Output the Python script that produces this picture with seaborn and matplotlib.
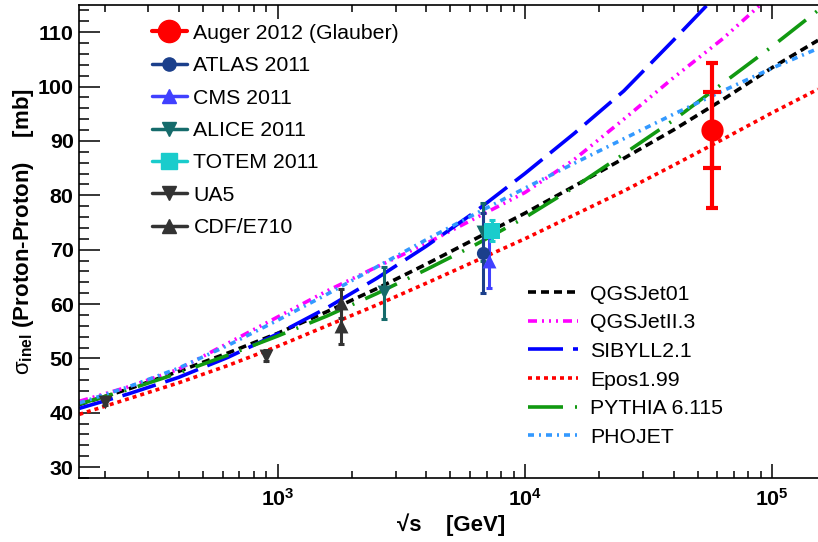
import numpy as np
import pandas as pd
import matplotlib
matplotlib.use("Agg")
import matplotlib.pyplot as plt
import seaborn as sns
from matplotlib.lines import Line2D
from matplotlib.ticker import MultipleLocator, LogLocator, FuncFormatter, NullFormatter

# model curves: sqrt(s) in GeV, sigma_inel in mb
sqrt_s_model = [158, 251, 398, 631, 1000, 1585, 2512, 3981, 6310, 10000,
                15849, 25119, 39811, 63096, 100000, 153000]
qgsjet01 = [41.5, 44.4, 47.6, 51.0, 54.6, 58.6, 62.8, 67.3, 72.0, 76.7,
            81.7, 86.8, 92.0, 97.6, 103.5, 108.5]
qgsjetii = [42.1, 44.8, 48.0, 52.8, 57.6, 62.4, 66.8, 71.1, 75.8, 80.5,
            86.6, 94.0, 101.6, 108.8, 117.0, np.nan]
sibyll = [40.8, 43.5, 46.5, 50.2, 54.5, 59.3, 64.7, 70.6, 77.0, 84.0,
          91.4, 99.2, 108.5, 118.0, np.nan, np.nan]
epos = [39.7, 42.6, 45.5, 48.7, 52.2, 56.0, 59.8, 63.8, 67.9, 72.0,
        76.4, 80.8, 85.5, 90.3, 95.2, 99.5]
pythia = [41.6, 44.3, 47.3, 50.6, 54.1, 57.8, 61.9, 66.3, 70.9, 75.9,
          81.5, 87.6, 93.8, 100.6, 107.4, 114.0]
phojet = [41.8, 44.8, 48.2, 52.4, 57.0, 61.8, 66.8, 71.8, 76.6, 81.3,
          85.9, 90.4, 94.9, 99.2, 103.4, 107.0]
model_names = ["QGSJet01", "QGSJetII.3", "SIBYLL2.1", "Epos1.99", "PYTHIA 6.115", "PHOJET"]

# measurements
auger_x = [57000]
auger_y = [92.0]
auger_stat = [7.0]
auger_tot_lo = [14.3]
auger_tot_hi = [12.4]

atlas_x = [6750]
atlas_y = [69.4]
atlas_err = [7.3]

cms_x = [7170]
cms_y = [68.0]
cms_err = [5.0]

alice_x = [2700, 6790]
alice_y = [62.3, 73.2]
alice_lo = [5.0, 5.3]
alice_hi = [4.5, 5.3]

totem_x = [7340]
totem_y = [73.5]
totem_err = [1.9]

ua5_x = [200, 900]
ua5_y = [42.0, 50.5]
ua5_err = [0.6, 1.0]

cdf_x = [1800, 1800]
cdf_y = [60.1, 56.0]
cdf_err = [2.6, 3.4]

sns.set_style("ticks")
plt.rcParams["font.family"] = ["Liberation Sans", "DejaVu Sans"]
plt.rcParams["mathtext.fontset"] = "custom"
plt.rcParams["mathtext.rm"] = "Liberation Sans"
plt.rcParams["mathtext.bf"] = "Liberation Sans:bold"
plt.rcParams["mathtext.it"] = "Liberation Sans:italic"
plt.rcParams["mathtext.sf"] = "Liberation Sans"
for key in ["text.color", "axes.labelcolor", "xtick.color", "ytick.color", "axes.edgecolor"]:
    plt.rcParams[key] = "black"

fig = plt.figure(figsize=(8.18, 5.42), dpi=100)
ax = fig.add_axes([0.0969, 0.1181, 0.9031, 0.8727])
ax.set_xscale("log")

LW = 2.6
def px_dash(*px):
    # dash pattern given in pixels, converted to linewidth units
    return (0, tuple(p / (LW * 100 / 72) for p in px))

model_vals = [qgsjet01, qgsjetii, sibyll, epos, pythia, phojet]
model_colors = ["black", "#ff00ff", "#0000ff", "#ff0000", "#119911", "#3399ff"]
model_dash = [px_dash(8, 5), px_dash(9, 5, 2, 5, 2, 5, 2, 5), px_dash(35, 10),
              px_dash(4, 4), px_dash(35, 12, 2, 12), px_dash(6, 5, 2, 5)]

model_lines = []
for vals, col, ls in zip(model_vals, model_colors, model_dash):
    sns.lineplot(x=sqrt_s_model, y=vals, ax=ax, color=col, lw=LW,
                 linestyle=ls, sort=False, zorder=2)
    model_lines.append(ax.lines[-1])

def draw_points(x, y, lo, hi, color, marker, size, lw=2.2, cap=2.0):
    ax.errorbar(x, y, yerr=[lo, hi], fmt="none", ecolor=color,
                elinewidth=lw, capsize=cap, capthick=lw, zorder=3)
    sns.scatterplot(x=x, y=y, ax=ax, marker=marker, s=size ** 2, color=color,
                    edgecolor=color, linewidth=0, zorder=4)

draw_points(ua5_x, ua5_y, ua5_err, ua5_err, "#333333", "v", 10)
draw_points(cdf_x, cdf_y, cdf_err, cdf_err, "#333333", "^", 10)
draw_points(alice_x, alice_y, alice_lo, alice_hi, "#156b6b", "v", 10)
draw_points(atlas_x, atlas_y, atlas_err, atlas_err, "#1b3f8b", "o", 9.5)
draw_points(cms_x, cms_y, cms_err, cms_err, "#4040ff", "^", 10)
draw_points(totem_x, totem_y, totem_err, totem_err, "#1acccc", "s", 11)
ax.errorbar(auger_x, auger_y, yerr=[auger_tot_lo, auger_tot_hi], fmt="none",
            ecolor="red", elinewidth=3, capsize=4.3, capthick=3, zorder=5)
draw_points(auger_x, auger_y, auger_stat, auger_stat, "red", "o", 16, lw=3, cap=6.5)

ax.set_xlim(158, 153000)
ax.set_ylim(28, 115)

ax.yaxis.set_major_locator(MultipleLocator(10))
ax.yaxis.set_minor_locator(MultipleLocator(2))
ax.xaxis.set_major_locator(LogLocator(base=10, numticks=10))
ax.xaxis.set_minor_locator(LogLocator(base=10, subs=np.arange(2, 10), numticks=20))
ax.xaxis.set_major_formatter(FuncFormatter(lambda v, p: r"$\mathbf{10^{%d}}$" % round(np.log10(v))))
ax.xaxis.set_minor_formatter(NullFormatter())
ax.tick_params(axis="both", which="both", direction="in", color="black", width=1.1,
               labelcolor="black")
ax.tick_params(axis="x", which="major", length=10, top=True, pad=7)
ax.tick_params(axis="x", which="minor", length=5, top=True)
ax.tick_params(axis="y", which="major", length=15, pad=4)
ax.tick_params(axis="y", which="minor", length=7.5)
for lab in ax.get_yticklabels():
    lab.set_fontweight("bold")
ax.tick_params(axis="both", labelsize=15.4)
for side in ["left", "bottom", "top"]:
    ax.spines[side].set_linewidth(1.2)
    ax.spines[side].set_color("black")
ax.spines["right"].set_visible(False)
ax.set_xlabel("")
ax.set_ylabel("")

fig.text(450.8 / 818, 1 - 524.5 / 542, "√s    [GeV]", ha="center", va="center",
         fontsize=16, fontweight="bold", color="black")
fig.text(24 / 818, 1 - 232 / 542, r"$\mathrm{σ}_{\mathbf{inel}}$ (Proton-Proton)    [mb]",
         ha="center", va="center", rotation=90, fontsize=16, fontweight="bold", color="black")

exp_labels = ["Auger 2012 (Glauber)", "ATLAS 2011", "CMS 2011", "ALICE 2011",
              "TOTEM 2011", "UA5", "CDF/E710"]
exp_style = [("red", "o", 16), ("#1b3f8b", "o", 9.5), ("#4040ff", "^", 10),
             ("#156b6b", "v", 10), ("#1acccc", "s", 11), ("#333333", "v", 10),
             ("#333333", "^", 10)]
exp_handles = [Line2D([], [], color=c, marker=m, ms=s, lw=3 if i == 0 else 2.5)
               for i, (c, m, s) in enumerate(exp_style)]
leg1 = ax.legend(exp_handles, exp_labels, loc="upper left",
                 bbox_to_anchor=(0.0984, 0.960), frameon=False, fontsize=15.3,
                 handlelength=1.65, handletextpad=0.3, labelspacing=0.63,
                 borderpad=0, borderaxespad=0, labelcolor="black")
ax.add_artist(leg1)

model_handles = [Line2D([], [], color=c, lw=LW, linestyle=ls)
                 for c, ls in zip(model_colors, model_dash)]
ax.legend(model_handles, model_names, loc="upper left",
          bbox_to_anchor=(0.607, 0.409), frameon=False, fontsize=15.3,
          handlelength=2.35, handletextpad=0.6, labelspacing=0.455,
          borderpad=0, borderaxespad=0, labelcolor="black")

fig.savefig("out.png", dpi=100)
